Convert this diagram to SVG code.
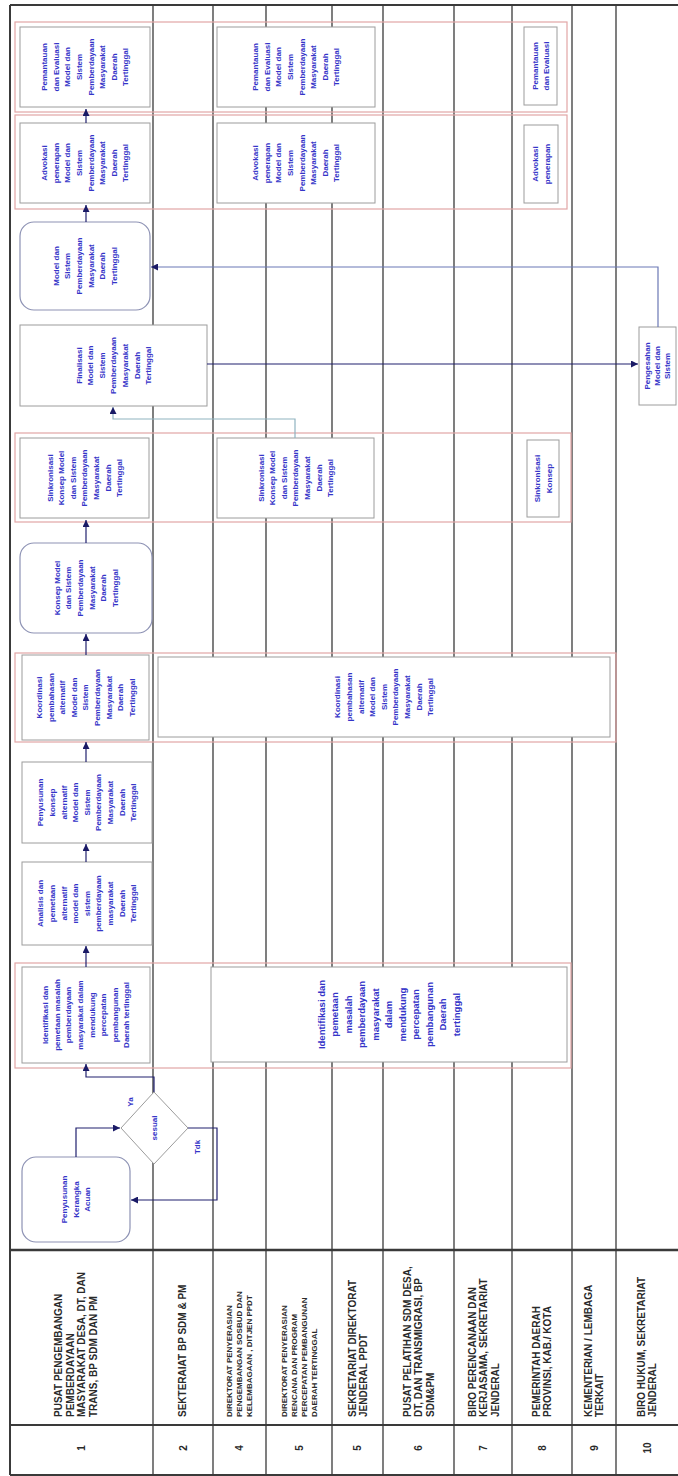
<svg xmlns="http://www.w3.org/2000/svg" width="678" height="1476" viewBox="0 0 678 1476">
<style>
.lane{stroke:#3a3a3a;stroke-width:1.3;fill:none}
.frame{stroke:#3a3a3a;stroke-width:2;fill:none}
.grp{fill:none;stroke:#e2a6a6;stroke-width:1.2}
.box{fill:#fff;stroke:#9c9c9c;stroke-width:1}
.rbox{fill:#fff;stroke:#8d92b4;stroke-width:1.2}
.t{font-family:"Liberation Sans",Arial,sans-serif;font-weight:bold;font-size:8px;fill:#3434c8;text-anchor:middle}
.tb{font-size:9.5px}
.h{font-family:"Liberation Sans",Arial,sans-serif;font-weight:bold;font-size:10px;fill:#2a2a2a}
.hs{font-size:8px}
.num{font-family:"Liberation Sans",Arial,sans-serif;font-weight:bold;font-size:10px;fill:#2a2a2a;text-anchor:middle}
.c{fill:none;stroke:#20206e;stroke-width:1.2}
.c2{fill:none;stroke:#8fb3c0;stroke-width:1.2}
.c3{fill:none;stroke:#6b78b5;stroke-width:1.2}
</style>
<defs>
<marker id="ah" viewBox="0 0 10 10" refX="10" refY="5" markerWidth="7" markerHeight="7" markerUnits="userSpaceOnUse" orient="auto"><path d="M0,0L10,5L0,10z" fill="#1a1a66"/></marker>
</defs>

<g id="lanes">
<line class="frame" x1="10" y1="5" x2="678" y2="5"/>
<line class="frame" x1="10" y1="5" x2="10" y2="1475"/>
<line class="frame" x1="10" y1="1475" x2="678" y2="1475"/>
<line class="frame" x1="10" y1="1250" x2="678" y2="1250" style="stroke-width:2.5"/>
<line class="frame" x1="10" y1="1425" x2="678" y2="1425"/>
<line class="lane" x1="153" y1="5" x2="153" y2="1475"/>
<line class="lane" x1="213" y1="5" x2="213" y2="1475"/>
<line class="lane" x1="266" y1="5" x2="266" y2="1475"/>
<line class="lane" x1="332" y1="5" x2="332" y2="1475"/>
<line class="lane" x1="383" y1="5" x2="383" y2="1475"/>
<line class="lane" x1="454" y1="5" x2="454" y2="1475"/>
<line class="lane" x1="512" y1="5" x2="512" y2="1475"/>
<line class="lane" x1="572" y1="5" x2="572" y2="1475"/>
<line class="lane" x1="616" y1="5" x2="616" y2="1475"/>
</g>

<g id="header">
<text class="h" transform="translate(62,1417) rotate(-90)"><tspan x="0" y="0">PUSAT PENGEMBANGAN</tspan><tspan x="0" dy="11.5">PEMBERDAYAAN</tspan><tspan x="0" dy="11.5">MASYARAKAT DESA, DT, DAN</tspan><tspan x="0" dy="11.5">TRANS, BP SDM DAN PM</tspan></text>
<text class="h" transform="translate(186,1417) rotate(-90)">SEKTERAIAT BP SDM &amp; PM</text>
<text class="h hs" transform="translate(232,1417) rotate(-90)"><tspan x="0" y="0">DIREKTORAT PENYERASIAN</tspan><tspan x="0" dy="10">PENGEMBANGAN SOSBUD DAN</tspan><tspan x="0" dy="10">KELEMBAGAAN , DITJEN PPDT</tspan></text>
<text class="h hs" transform="translate(287,1417) rotate(-90)"><tspan x="0" y="0">DIREKTORAT PENYERASIAN</tspan><tspan x="0" dy="10">RENCANA DAN PROGRAM</tspan><tspan x="0" dy="10">PERCEPATAN PEMBANGUNAN</tspan><tspan x="0" dy="10">DAERAH TERTINGGAL</tspan></text>
<text class="h" transform="translate(355.5,1417) rotate(-90)"><tspan x="0" y="0">SEKRETARIAT DIREKTORAT</tspan><tspan x="0" dy="11.5">JENDERAL PPDT</tspan></text>
<text class="h" transform="translate(410.5,1417) rotate(-90)"><tspan x="0" y="0">PUSAT PELATIHAN SDM DESA,</tspan><tspan x="0" dy="11.5">DT, DAN TRANSMIGRASI, BP</tspan><tspan x="0" dy="11.5">SDM&amp;PM</tspan></text>
<text class="h" transform="translate(475.5,1417) rotate(-90)"><tspan x="0" y="0">BIRO PERENCANAAN DAN</tspan><tspan x="0" dy="11.5">KERJASAMA, SEKRETARIAT</tspan><tspan x="0" dy="11.5">JENDERAL</tspan></text>
<text class="h" transform="translate(539.5,1417) rotate(-90)"><tspan x="0" y="0">PEMERINTAH DAERAH</tspan><tspan x="0" dy="11.5">PROVINSI, KAB./ KOTA</tspan></text>
<text class="h" transform="translate(591.5,1417) rotate(-90)"><tspan x="0" y="0">KEMENTERIAN / LEMBAGA</tspan><tspan x="0" dy="11.5">TERKAIT</tspan></text>
<text class="h" transform="translate(644.5,1417) rotate(-90)"><tspan x="0" y="0">BIRO HUKUM, SEKRETARIAT</tspan><tspan x="0" dy="11.5">JENDERAL</tspan></text>
<text class="num" transform="translate(85,1448) rotate(-90)">1</text>
<text class="num" transform="translate(186.5,1448) rotate(-90)">2</text>
<text class="num" transform="translate(243,1448) rotate(-90)">4</text>
<text class="num" transform="translate(302.5,1448) rotate(-90)">5</text>
<text class="num" transform="translate(361,1448) rotate(-90)">5</text>
<text class="num" transform="translate(422,1448) rotate(-90)">6</text>
<text class="num" transform="translate(486.5,1448) rotate(-90)">7</text>
<text class="num" transform="translate(545.5,1448) rotate(-90)">8</text>
<text class="num" transform="translate(597.5,1448) rotate(-90)">9</text>
<text class="num" transform="translate(650.5,1448) rotate(-90)">10</text>
</g>

<g id="groups">
<rect class="grp" x="15" y="22" width="552" height="90"/>
<rect class="grp" x="15" y="115" width="552" height="94"/>
<rect class="grp" x="15" y="433" width="556" height="89"/>
<rect class="grp" x="15" y="653" width="601" height="89"/>
<rect class="grp" x="15" y="963" width="556" height="105"/>
</g>

<g id="n-kerangka-acuan">
<rect class="rbox" x="22" y="1157" width="108" height="85" rx="14"/>
<text class="t" transform="translate(76,1199.5) rotate(-90)"><tspan x="0" y="-8.8">Penyusunan</tspan><tspan x="0" dy="11.6">Kerangka</tspan><tspan x="0" dy="11.6">Acuan</tspan></text>
</g>

<g id="n-sesuai">
<polygon class="box" points="154,1092 188,1128 154,1164 121,1128"/>
<text class="t" transform="translate(157,1128) rotate(-90)">sesuai</text>
</g>

<g id="n-identifikasi">
<rect class="box" x="22" y="967" width="128" height="96"/>
<text class="t" transform="translate(86,1015) rotate(-90)"><tspan x="0" y="-37.8">Identifikasi dan</tspan><tspan x="0" dy="11.6">pemetaan masalah</tspan><tspan x="0" dy="11.6">pemberdayaan</tspan><tspan x="0" dy="11.6">masyarakat dalam</tspan><tspan x="0" dy="11.6">mendukung</tspan><tspan x="0" dy="11.6">percepatan</tspan><tspan x="0" dy="11.6">pembangunan</tspan><tspan x="0" dy="11.6">Daerah tertinggal</tspan></text>
</g>

<g id="n-identifikasi-bersama">
<rect class="box" x="211" y="967" width="356" height="95"/>
<text class="t tb" transform="translate(389,1014.5) rotate(-90)"><tspan x="0" y="-64.2">Identifikasi dan</tspan><tspan x="0" dy="13.5">pemetaan</tspan><tspan x="0" dy="13.5">masalah</tspan><tspan x="0" dy="13.5">pemberdayaan</tspan><tspan x="0" dy="13.5">masyarakat</tspan><tspan x="0" dy="13.5">dalam</tspan><tspan x="0" dy="13.5">mendukung</tspan><tspan x="0" dy="13.5">percepatan</tspan><tspan x="0" dy="13.5">pembangunan</tspan><tspan x="0" dy="13.5">Daerah</tspan><tspan x="0" dy="13.5">tertinggal</tspan></text>
</g>

<g id="n-analisis">
<rect class="box" x="22" y="862" width="130" height="83"/>
<text class="t" transform="translate(87,903.5) rotate(-90)"><tspan x="0" y="-43.6">Analisis dan</tspan><tspan x="0" dy="11.6">pemetaan</tspan><tspan x="0" dy="11.6">alternatif</tspan><tspan x="0" dy="11.6">model dan</tspan><tspan x="0" dy="11.6">sistem</tspan><tspan x="0" dy="11.6">pemberdayaan</tspan><tspan x="0" dy="11.6">masyarakat</tspan><tspan x="0" dy="11.6">Daerah</tspan><tspan x="0" dy="11.6">Tertinggal</tspan></text>
</g>

<g id="n-penyusunan-konsep">
<rect class="box" x="22" y="762" width="130" height="81"/>
<text class="t" transform="translate(87,802.5) rotate(-90)"><tspan x="0" y="-43.6">Penyusunan</tspan><tspan x="0" dy="11.6">konsep</tspan><tspan x="0" dy="11.6">alternatif</tspan><tspan x="0" dy="11.6">Model dan</tspan><tspan x="0" dy="11.6">Sistem</tspan><tspan x="0" dy="11.6">Pemberdayaan</tspan><tspan x="0" dy="11.6">Masyarakat</tspan><tspan x="0" dy="11.6">Daerah</tspan><tspan x="0" dy="11.6">Tertinggal</tspan></text>
</g>

<g id="n-koordinasi">
<rect class="box" x="22" y="655" width="127" height="85"/>
<text class="t" transform="translate(85.5,697.5) rotate(-90)"><tspan x="0" y="-43.6">Koordinasi</tspan><tspan x="0" dy="11.6">pembahasan</tspan><tspan x="0" dy="11.6">alternatif</tspan><tspan x="0" dy="11.6">Model dan</tspan><tspan x="0" dy="11.6">Sistem</tspan><tspan x="0" dy="11.6">Pemberdayaan</tspan><tspan x="0" dy="11.6">Masyarakat</tspan><tspan x="0" dy="11.6">Daerah</tspan><tspan x="0" dy="11.6">Tertinggal</tspan></text>
</g>

<g id="n-koordinasi-bersama">
<rect class="box" x="158" y="657" width="452" height="80"/>
<text class="t" transform="translate(384,697) rotate(-90)"><tspan x="0" y="-43.6">Koordinasi</tspan><tspan x="0" dy="11.6">pembahasan</tspan><tspan x="0" dy="11.6">alternatif</tspan><tspan x="0" dy="11.6">Model dan</tspan><tspan x="0" dy="11.6">Sistem</tspan><tspan x="0" dy="11.6">Pemberdayaan</tspan><tspan x="0" dy="11.6">Masyarakat</tspan><tspan x="0" dy="11.6">Daerah</tspan><tspan x="0" dy="11.6">Tertinggal</tspan></text>
</g>

<g id="n-konsep">
<rect class="rbox" x="20" y="543" width="132" height="90" rx="14"/>
<text class="t" transform="translate(86,588) rotate(-90)"><tspan x="0" y="-26.2">Konsep Model</tspan><tspan x="0" dy="11.6">dan Sistem</tspan><tspan x="0" dy="11.6">Pemberdayaan</tspan><tspan x="0" dy="11.6">Masyarakat</tspan><tspan x="0" dy="11.6">Daerah</tspan><tspan x="0" dy="11.6">Tertinggal</tspan></text>
</g>

<g id="n-sinkronisasi">
<rect class="box" x="20" y="438" width="129" height="80"/>
<text class="t" transform="translate(84.5,478) rotate(-90)"><tspan x="0" y="-32">Sinkronisasi</tspan><tspan x="0" dy="11.6">Konsep Model</tspan><tspan x="0" dy="11.6">dan Sistem</tspan><tspan x="0" dy="11.6">Pemberdayaan</tspan><tspan x="0" dy="11.6">Masyarakat</tspan><tspan x="0" dy="11.6">Daerah</tspan><tspan x="0" dy="11.6">Tertinggal</tspan></text>
</g>

<g id="n-sinkronisasi-dit">
<rect class="box" x="217" y="438" width="157" height="80"/>
<text class="t" transform="translate(295.5,478) rotate(-90)"><tspan x="0" y="-32">Sinkronisasi</tspan><tspan x="0" dy="11.6">Konsep Model</tspan><tspan x="0" dy="11.6">dan Sistem</tspan><tspan x="0" dy="11.6">Pemberdayaan</tspan><tspan x="0" dy="11.6">Masyarakat</tspan><tspan x="0" dy="11.6">Daerah</tspan><tspan x="0" dy="11.6">Tertinggal</tspan></text>
</g>

<g id="n-sinkronisasi-pemda">
<rect class="box" x="527" y="440" width="32" height="77"/>
<text class="t" transform="translate(543,478.5) rotate(-90)"><tspan x="0" y="-3">Sinkronisasi</tspan><tspan x="0" dy="11.6">Konsep</tspan></text>
</g>

<g id="n-finalisasi">
<rect class="box" x="20" y="325" width="187" height="81"/>
<text class="t" transform="translate(113.5,365.5) rotate(-90)"><tspan x="0" y="-32">Finalisasi</tspan><tspan x="0" dy="11.6">Model dan</tspan><tspan x="0" dy="11.6">Sistem</tspan><tspan x="0" dy="11.6">Pemberdayaan</tspan><tspan x="0" dy="11.6">Masyarakat</tspan><tspan x="0" dy="11.6">Daerah</tspan><tspan x="0" dy="11.6">Tertinggal</tspan></text>
</g>

<g id="n-pengesahan">
<rect class="box" x="639" y="327" width="37" height="78"/>
<text class="t" transform="translate(657.5,366) rotate(-90)"><tspan x="0" y="-7.2">Pengesahan</tspan><tspan x="0" dy="10">Model dan</tspan><tspan x="0" dy="10">Sistem</tspan></text>
</g>

<g id="n-model">
<rect class="rbox" x="20" y="222" width="130" height="88" rx="14"/>
<text class="t" transform="translate(85,266) rotate(-90)"><tspan x="0" y="-26.2">Model dan</tspan><tspan x="0" dy="11.6">Sistem</tspan><tspan x="0" dy="11.6">Pemberdayaan</tspan><tspan x="0" dy="11.6">Masyarakat</tspan><tspan x="0" dy="11.6">Daerah</tspan><tspan x="0" dy="11.6">Tertinggal</tspan></text>
</g>

<g id="n-advokasi">
<rect class="box" x="20" y="123" width="130" height="80"/>
<text class="t" transform="translate(85,163) rotate(-90)"><tspan x="0" y="-37.8">Advokasi</tspan><tspan x="0" dy="11.6">penerapan</tspan><tspan x="0" dy="11.6">Model dan</tspan><tspan x="0" dy="11.6">Sistem</tspan><tspan x="0" dy="11.6">Pemberdayaan</tspan><tspan x="0" dy="11.6">Masyarakat</tspan><tspan x="0" dy="11.6">Daerah</tspan><tspan x="0" dy="11.6">Tertinggal</tspan></text>
</g>

<g id="n-advokasi-dit">
<rect class="box" x="217" y="123" width="158" height="80"/>
<text class="t" transform="translate(296,163) rotate(-90)"><tspan x="0" y="-37.8">Advokasi</tspan><tspan x="0" dy="11.6">penerapan</tspan><tspan x="0" dy="11.6">Model dan</tspan><tspan x="0" dy="11.6">Sistem</tspan><tspan x="0" dy="11.6">Pemberdayaan</tspan><tspan x="0" dy="11.6">Masyarakat</tspan><tspan x="0" dy="11.6">Daerah</tspan><tspan x="0" dy="11.6">Tertinggal</tspan></text>
</g>

<g id="n-advokasi-pemda">
<rect class="box" x="524" y="125" width="34" height="78"/>
<text class="t" transform="translate(541,164) rotate(-90)"><tspan x="0" y="-3">Advokasi</tspan><tspan x="0" dy="11.6">penerapan</tspan></text>
</g>

<g id="n-pemantauan">
<rect class="box" x="20" y="27" width="130" height="80"/>
<text class="t" transform="translate(85,67) rotate(-90)"><tspan x="0" y="-37.8">Pemantauan</tspan><tspan x="0" dy="11.6">dan Evaluasi</tspan><tspan x="0" dy="11.6">Model dan</tspan><tspan x="0" dy="11.6">Sistem</tspan><tspan x="0" dy="11.6">Pemberdayaan</tspan><tspan x="0" dy="11.6">Masyarakat</tspan><tspan x="0" dy="11.6">Daerah</tspan><tspan x="0" dy="11.6">Tertinggal</tspan></text>
</g>

<g id="n-pemantauan-dit">
<rect class="box" x="217" y="27" width="158" height="80"/>
<text class="t" transform="translate(296,67) rotate(-90)"><tspan x="0" y="-37.8">Pemantauan</tspan><tspan x="0" dy="11.6">dan Evaluasi</tspan><tspan x="0" dy="11.6">Model dan</tspan><tspan x="0" dy="11.6">Sistem</tspan><tspan x="0" dy="11.6">Pemberdayaan</tspan><tspan x="0" dy="11.6">Masyarakat</tspan><tspan x="0" dy="11.6">Daerah</tspan><tspan x="0" dy="11.6">Tertinggal</tspan></text>
</g>

<g id="n-pemantauan-pemda">
<rect class="box" x="524" y="27" width="33" height="78"/>
<text class="t" transform="translate(540.5,66) rotate(-90)"><tspan x="0" y="-3">Pemantauan</tspan><tspan x="0" dy="11.6">dan Evaluasi</tspan></text>
</g>

<g id="connectors">
<path class="c" d="M76,1157 V1128 H120" marker-end="url(#ah)"/>
<path class="c" d="M188,1128 H217 V1200 H131" marker-end="url(#ah)"/>
<path class="c" d="M154,1092 V1077 H86 V1064" marker-end="url(#ah)"/>
<path class="c" d="M86,967 V946" marker-end="url(#ah)"/>
<path class="c" d="M86,862 V844" marker-end="url(#ah)"/>
<path class="c" d="M86,762 V742" marker-end="url(#ah)"/>
<path class="c" d="M86,655 V634" marker-end="url(#ah)"/>
<path class="c" d="M86,543 V520" marker-end="url(#ah)"/>
<path class="c2" d="M295,438 V419 H113 V407" marker-end="url(#ah)"/>
<path class="c" d="M207,364 H638" marker-end="url(#ah)"/>
<path class="c3" d="M658,327 V267 H151" marker-end="url(#ah)"/>
<path class="c" d="M86,222 V205" marker-end="url(#ah)"/>
<path class="c" d="M86,123 V109" marker-end="url(#ah)"/>
<text class="t" transform="translate(133,1102) rotate(-90)">Ya</text>
<text class="t" transform="translate(200,1147) rotate(-90)">Tdk</text>
</g>
</svg>
